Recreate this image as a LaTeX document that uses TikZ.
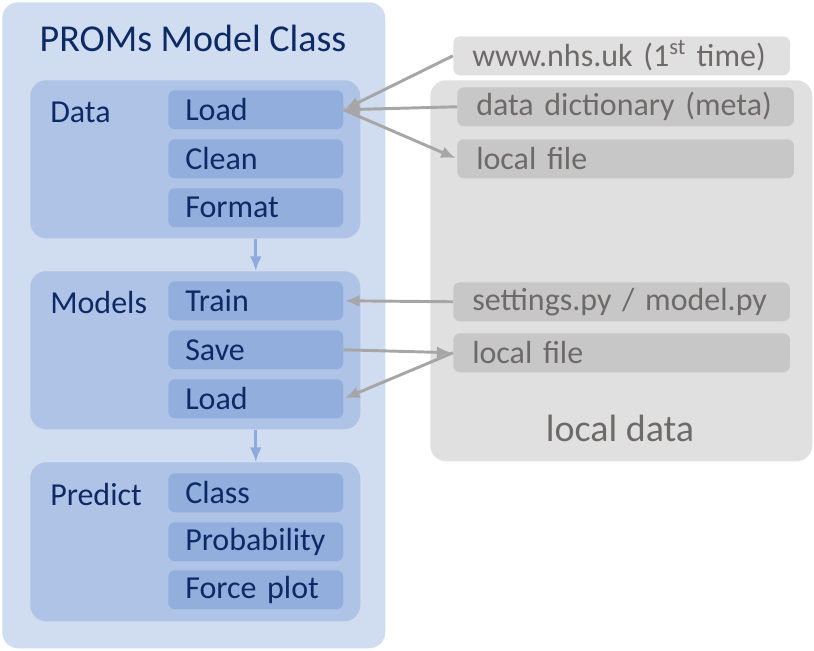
\documentclass[tikz,border=0pt]{standalone}
\usepackage{fontspec}
\setmainfont{Carlito}
\usetikzlibrary{arrows.meta}
\definecolor{outerblue}{HTML}{D0DCEF}
\definecolor{midblue}{HTML}{AFC3E6}
\definecolor{itemblue}{HTML}{91AEDD}
\definecolor{navy}{HTML}{0E2A66}
\definecolor{lgray}{HTML}{E0E0E0}
\definecolor{dgray}{HTML}{C7C7C7}
\definecolor{gtext}{HTML}{6E6A6A}
\definecolor{garr}{HTML}{A6A6A6}
\definecolor{barr}{HTML}{8FAADC}
\tikzset{
  container/.style={fill=#1, draw=none, rounded corners=12pt, anchor=north west, inner sep=0pt},
  itembox/.style={fill=itemblue, draw=none, rounded corners=5pt, anchor=north west,
    minimum height=29.25pt, text width=105.75pt, inner xsep=12.75pt, inner ysep=0pt, align=left,
    text=navy, font=\fontsize{24}{28}\selectfont},
  graybox/.style={fill=#1, draw=none, rounded corners=5pt, anchor=north west,
    minimum height=29.25pt, text width=224pt, inner xsep=14.25pt, inner ysep=0pt, align=left,
    text=gtext, font=\fontsize{24}{28}\selectfont},
  seclabel/.style={anchor=west, inner sep=0pt, text=navy, font=\fontsize{24}{28}\selectfont},
  garrow/.style={draw=garr, line width=2.2pt, -{Latex[length=11pt,width=9pt]}, shorten >=1pt},
  barrow/.style={draw=barr, line width=2.2pt, -{Latex[length=11pt,width=9pt]}},
}
\begin{document}
\begin{tikzpicture}[x=0.75pt,y=-0.75pt]
\useasboundingbox (0,0) rectangle (814,650);
% containers
\node[container=outerblue, minimum width=287.25pt, minimum height=484.5pt] (outer) at (2,2) {};
\node[anchor=center, inner sep=0pt, text=navy, font=\fontsize{28.5}{33}\selectfont] (title) at (193,38) {PROMs Model Class};
\node[container=lgray, minimum width=286.5pt, minimum height=285.75pt] (localdata) at (430,80) {};
\node[anchor=center, inner sep=0pt, text=gtext, font=\fontsize{28.5}{33}\selectfont] (ldlabel) at (620,428) {local data};

\node[container=midblue, minimum width=247.5pt, minimum height=118.5pt] (data) at (30,80) {};
\node[container=midblue, minimum width=247.5pt, minimum height=118.5pt] (models) at (30,271) {};
\node[container=midblue, minimum width=247.5pt, minimum height=119.25pt] (predict) at (30,462) {};

% section labels
\node[seclabel] (ldata) at (50,112) {Data};
\node[seclabel] (lmodels) at (50,303) {Models};
\node[seclabel] (lpredict) at (50,495) {Predict};

% items
\node[itembox] (load1) at (168,90) {Load};
\node[itembox] (clean) at (168,139) {Clean};
\node[itembox] (format) at (168,188) {Format};
\node[itembox] (train) at (168,281) {Train};
\node[itembox] (save) at (168,330) {Save};
\node[itembox] (load2) at (168,379) {Load};
\node[itembox] (class) at (168,473) {Class};
\node[itembox] (prob) at (168,522) {Probability};
\node[itembox] (force) at (168,570) {Force plot};

% gray boxes
\node[graybox=lgray] (www) at (453,36) {www.nhs.uk (1\textsuperscript{st} time)};
\node[graybox=dgray] (dict) at (457,87) {data dictionary (meta)};
\node[graybox=dgray] (lf1) at (457,139) {local file};
\node[graybox=dgray] (settings) at (453,282) {settings.py / model.py};
\node[graybox=dgray] (lf2) at (453,333) {local file};

% arrows
\draw[garrow] (www.west) -- (load1.east);
\draw[garrow] (dict.west) -- (load1.east);
\draw[garrow] (load1.east) -- (lf1.west);
\draw[garrow] (settings.west) -- (train.east);
\draw[garrow] (save.east) -- (lf2.west);
\draw[garrow] (lf2.west) -- (load2.east);
\draw[barrow] (data.south -| load1.center) -- (models.north -| load1.center);
\draw[barrow] (models.south -| load1.center) -- (predict.north -| load1.center);
\end{tikzpicture}
\end{document}
